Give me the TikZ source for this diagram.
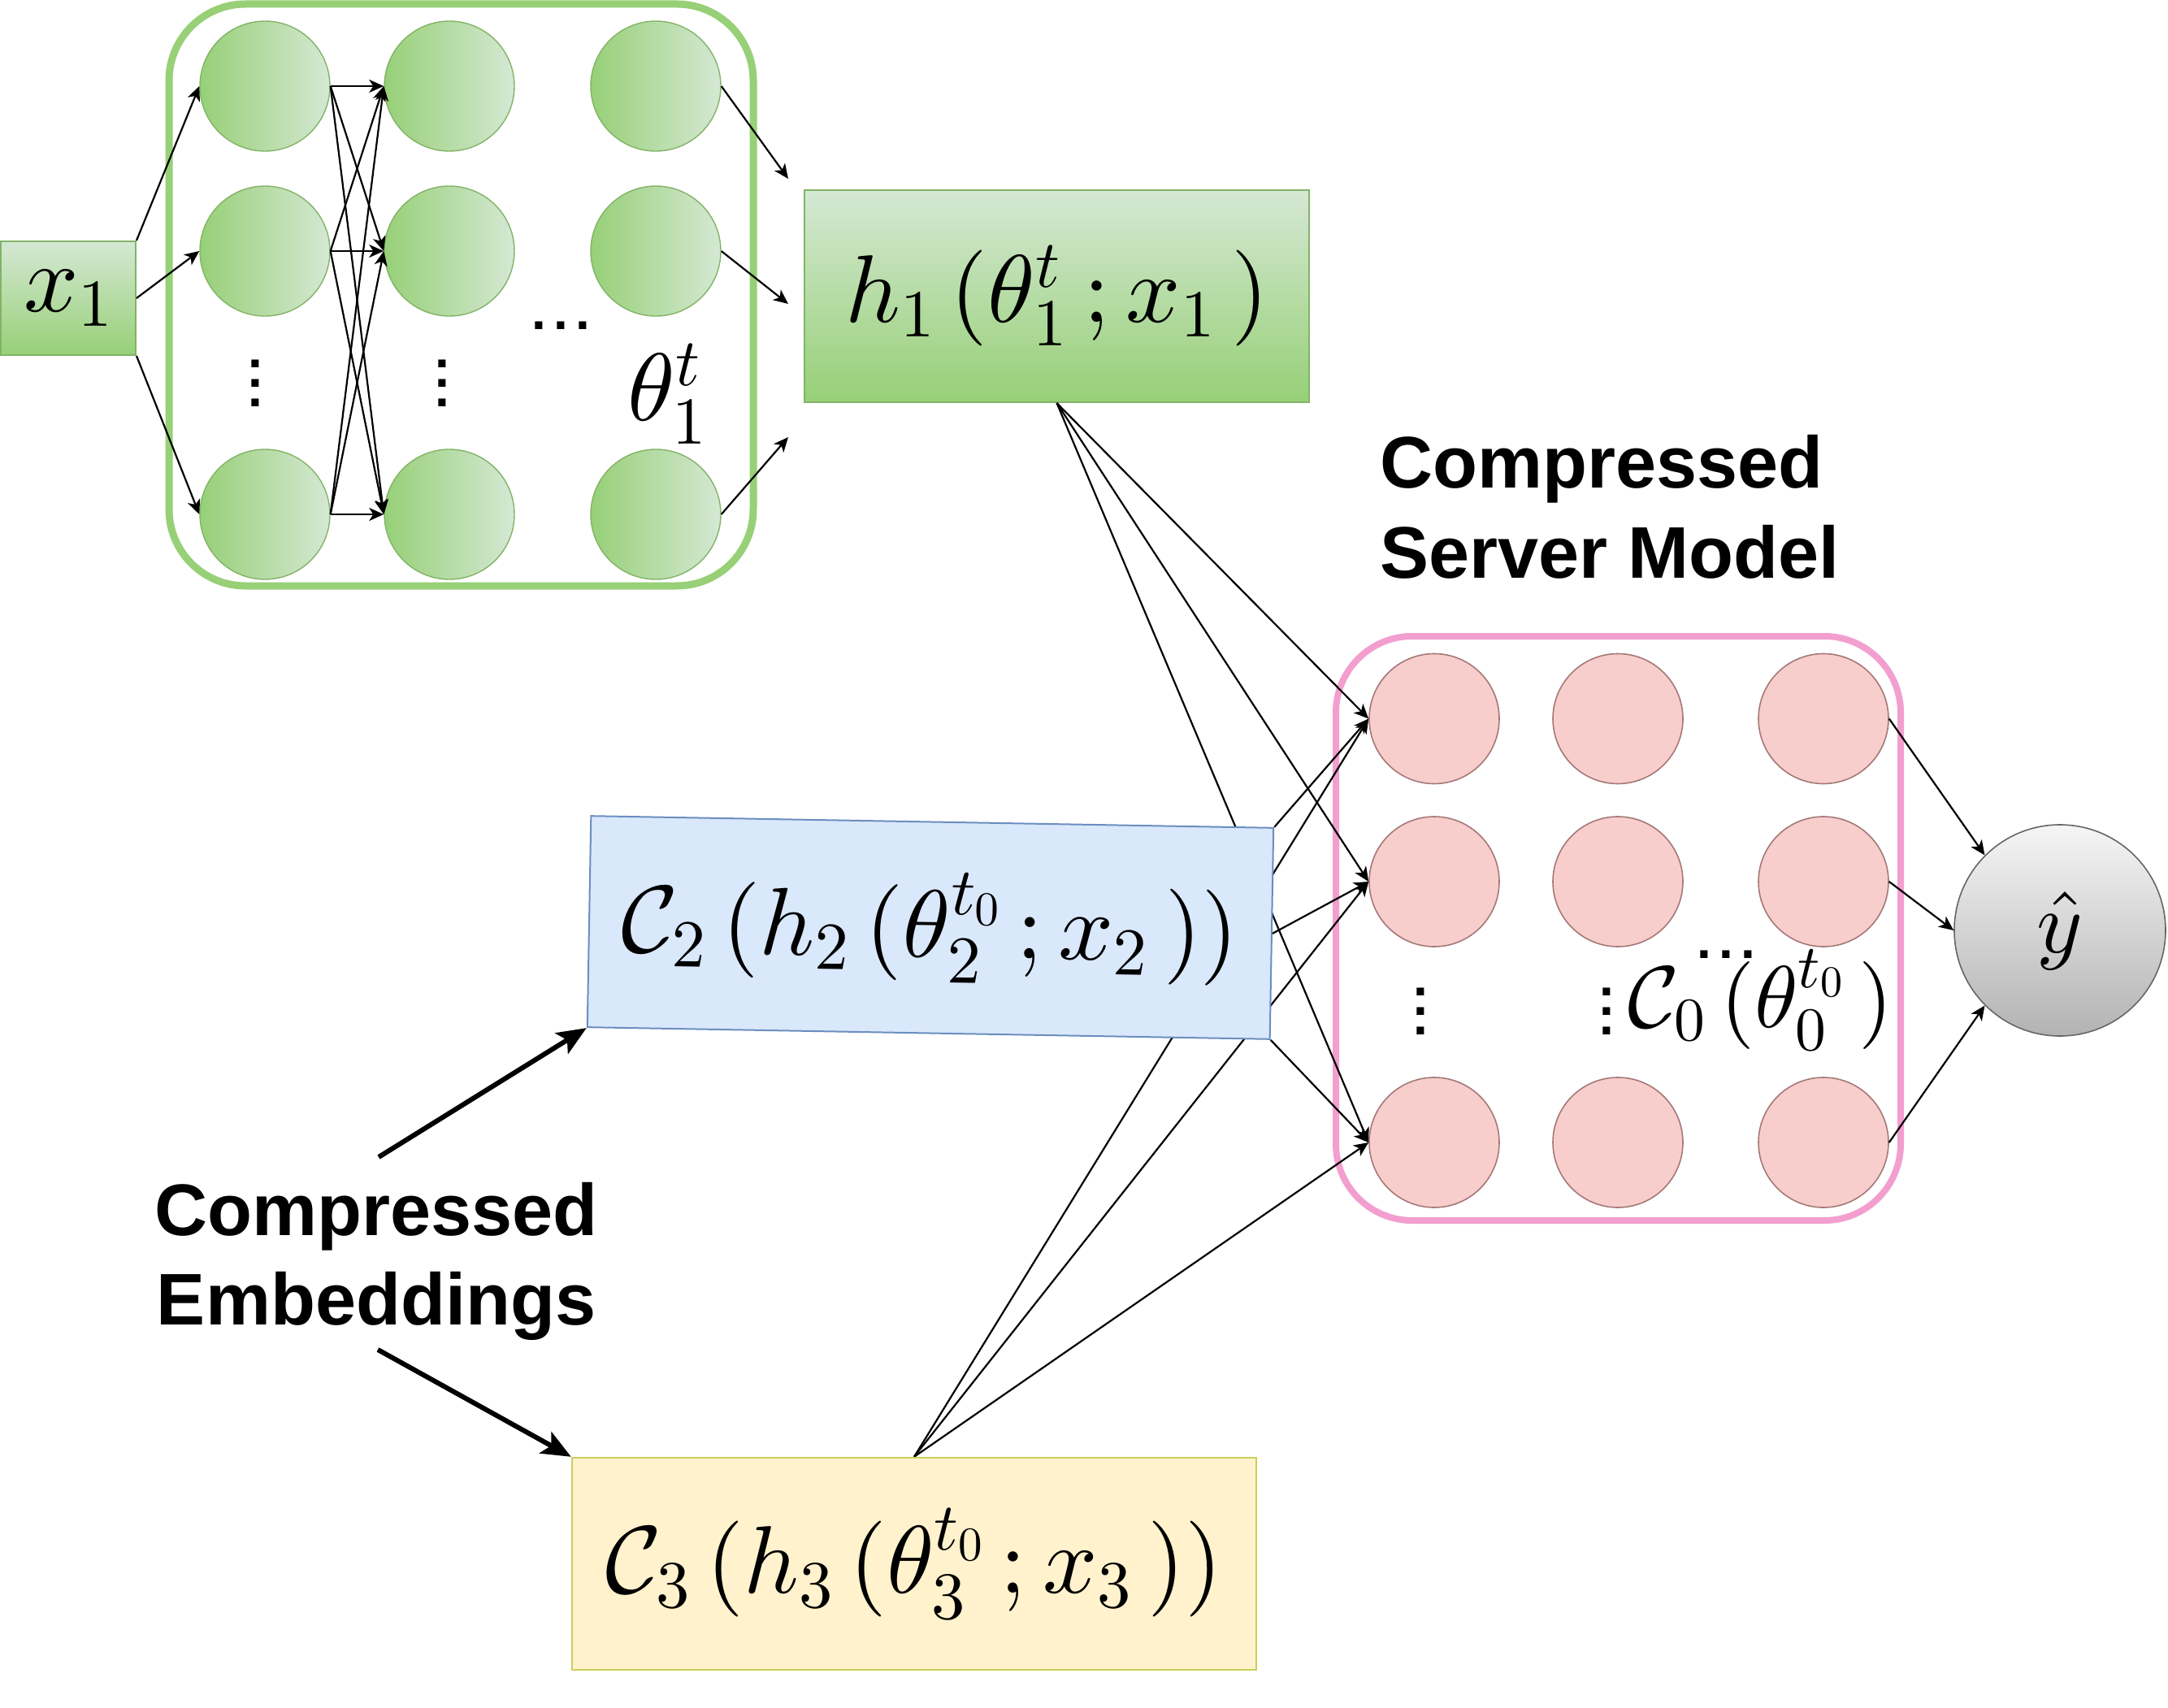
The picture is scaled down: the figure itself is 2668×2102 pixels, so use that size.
\documentclass[tikz,border=0pt]{standalone}
\usepackage{fontspec}
\newfontfamily\arialf{Liberation Sans}
\DeclareFontFamily{OML}{cmm}{\skewchar\font'177}
\DeclareFontShape{OML}{cmm}{m}{it}{<->cmmi10}{}
\DeclareFontShape{OML}{cmm}{b}{it}{<->cmmib10}{}
\DeclareFontFamily{OMS}{cmsy}{\skewchar\font'60}
\DeclareFontShape{OMS}{cmsy}{m}{n}{<->cmsy10}{}
\DeclareFontShape{OMS}{cmsy}{b}{n}{<->cmbsy10}{}
\DeclareFontFamily{OMX}{cmex}{}
\DeclareFontShape{OMX}{cmex}{m}{n}{<->cmex10}{}
\DeclareFontFamily{OT1}{cmr}{\hyphenchar\font45 }
\DeclareFontShape{OT1}{cmr}{m}{n}{<->cmr10}{}
\DeclareFontShape{OT1}{cmr}{m}{it}{<->cmti10}{}
\DeclareFontShape{OT1}{cmr}{bx}{n}{<->cmbx10}{}
\usetikzlibrary{arrows.meta}
\pgfdeclarelayer{bg}
\pgfdeclarelayer{fg}
\pgfsetlayers{bg,main,fg}
\definecolor{gdark}{HTML}{97D077}
\definecolor{glight}{HTML}{D5E8D4}
\definecolor{gstroke}{HTML}{82B366}
\definecolor{pfill}{HTML}{F8CECC}
\definecolor{pstroke}{HTML}{A57878}
\definecolor{pborder}{HTML}{F29FCF}
\definecolor{bfill}{HTML}{DAE8FC}
\definecolor{bstroke}{HTML}{6C8EBF}
\definecolor{yfill}{HTML}{FFF2CC}
\definecolor{ystroke}{HTML}{C9D05A}
\definecolor{grtop}{HTML}{F5F5F5}
\definecolor{grbot}{HTML}{B3B3B3}
\definecolor{grstroke}{HTML}{666666}
\newcommand\mf{\fontsize{59}{70}\selectfont}
\newcommand\mfs{\fontsize{54}{64}\selectfont}
\newcommand\vdts{\vbox{\baselineskip=0.375em\lineskiplimit=-1em\hbox{.}\hbox{.}\hbox{.}}}
\newcommand\hdts{.\kern0.145em.\kern0.145em.}
\begin{document}
\begin{tikzpicture}[x=0.5pt,y=-0.5pt,
  conn/.style={-{Stealth[length=9pt,width=8pt,inset=2.5pt]}, line width=1.1pt},
  bigarrow/.style={-{Stealth[length=18pt,width=15pt,inset=4pt]}, line width=3pt},
  gcirc/.style={circle, draw=gstroke, line width=0.7pt, left color=gdark, right color=glight, minimum size=80pt, inner sep=0pt},
  pcirc/.style={circle, draw=pstroke, line width=0.8pt, fill=pfill, minimum size=80pt, inner sep=0pt},
  gbox/.style={rectangle, draw=gstroke, line width=1pt, top color=glight, bottom color=gdark, inner sep=0pt},
  bbox/.style={rectangle, draw=bstroke, line width=1pt, fill=bfill, inner sep=0pt},
  ybox/.style={rectangle, draw=ystroke, line width=1.2pt, fill=yfill, inner sep=0pt},
  gframe/.style={rectangle, draw=gdark, line width=4.5pt, rounded corners=47pt, inner sep=0pt},
  pframe/.style={rectangle, draw=pborder, line width=4pt, rounded corners=47pt, inner sep=0pt},
  ycirc/.style={circle, draw=grstroke, line width=0.8pt, top color=grtop, bottom color=grbot, minimum size=130pt, inner sep=0pt},
  dotsn/.style={inner sep=0pt, font=\arialf\bfseries\fontsize{32}{36}\selectfont},
  lab/.style={inner sep=0pt, font=\arialf\bfseries\fontsize{45}{55}\selectfont}]
\useasboundingbox (0,0) rectangle (2668,2102);

\begin{pgfonlayer}{bg}
\node[gframe, minimum width=359.5pt, minimum height=358pt] (gfr) at (567.5,363) {};
\node[pframe, minimum width=347.5pt, minimum height=359.5pt] (pfr) at (1991.5,1142.5) {};
\end{pgfonlayer}

\foreach \c/\x in {1/326,2/553,3/807}
  \foreach \r/\y in {1/106,2/309,3/633}
    \node[gcirc] (g\c\r) at (\x,\y) {};
\foreach \c/\x in {1/1765,2/1991,3/2244}
  \foreach \r/\y in {1/884.5,2/1085,3/1406}
    \node[pcirc] (p\c\r) at (\x,\y) {};

\node[gbox, minimum width=83pt, minimum height=70pt] (x1) at (84,367) {\mf$x_1$};
\node[gbox, minimum width=310.5pt, minimum height=130.5pt] (h1) at (1300.5,364.5) {\mf$h_1\,(\theta_1^t\,;x_1\,)$};
\node[ycirc] (yhat) at (2535,1145) {\mfs$\hat{y}$};

\node[anchor=base west, inner sep=0pt] (th1) at (772,517) {\mf$\theta_1^t$};
\node[anchor=base west, inner sep=0pt] (c0) at (2003,1264) {\mfs$\mathcal{C}_0\,(\theta_0^{t_0}\,)$};

\node[dotsn] (gv1) at (314,472) {\vdts};
\node[dotsn] (gv2) at (544,472) {\vdts};
\node[dotsn] (gh) at (690,401) {\hdts};
\node[dotsn] (pv1) at (1748,1245) {\vdts};
\node[dotsn] (pv2) at (1977,1245) {\vdts};
\node[dotsn] (ph) at (2124,1175) {\hdts};

\node[lab, anchor=base west, align=left] (srvlab) at (1698,711) {Compressed\\Server Model};
\node[lab, anchor=base, align=center] (emblab) at (463,1630) {Compressed\\Embeddings};

\begin{pgfonlayer}{fg}
\node[bbox, rotate=-1, minimum width=420pt, minimum height=130pt] (c2) at (1145,1141.5) {\mf$\mathcal{C}_2\,(h_2\,(\theta_2^{t_0}\,;x_2\,))$};
\node[ybox, minimum width=421pt, minimum height=130.5pt] (c3) at (1125,1924.5) {\mf$\mathcal{C}_3\,(h_3\,(\theta_3^{t_0}\,;x_3\,))$};
\end{pgfonlayer}

\coordinate (o1) at (970,220);
\coordinate (o2) at (970,374);
\coordinate (o3) at (970,538);
\coordinate (e1) at (466,1424);
\coordinate (e2) at (465,1661);

\draw[conn] (x1.north east) -- (g11.west);
\draw[conn] (x1.east) -- (g12.west);
\draw[conn] (x1.south east) -- (g13.west);
\foreach \i in {1,2,3}
  \foreach \j in {1,2,3}
    \draw[conn] (g1\i.east) -- (g2\j.west);
\foreach \i in {1,2,3}
  \draw[conn] (g3\i.east) -- (o\i);
\foreach \j in {1,2,3}
  \draw[conn] (h1.south) -- (p1\j.west);
\draw[conn] (c2.north east) -- (p11.west);
\draw[conn] (c2.east) -- (p12.west);
\draw[conn] (c2.south east) -- (p13.west);
\foreach \j in {1,2,3}
  \draw[conn] (c3.north) -- (p1\j.west);
\draw[conn] (p31.east) -- (yhat.north west);
\draw[conn] (p32.east) -- (yhat.west);
\draw[conn] (p33.east) -- (yhat.south west);

\draw[bigarrow] (e1) -- (c2.south west);
\draw[bigarrow] (e2) -- (c3.north west);
\end{tikzpicture}
\end{document}
